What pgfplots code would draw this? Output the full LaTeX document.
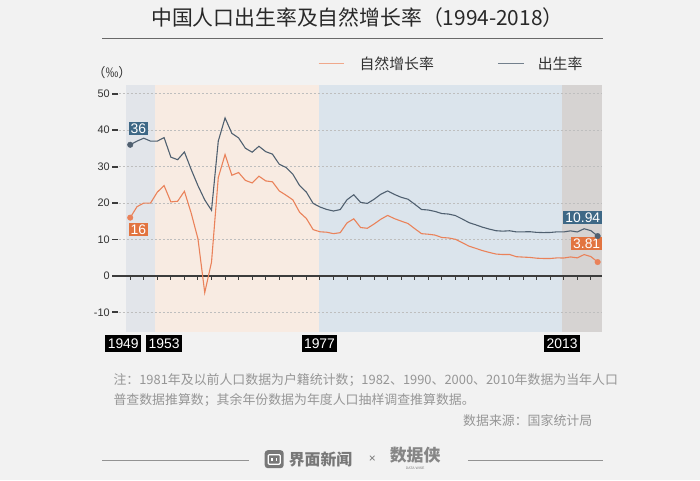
\documentclass[border=0pt]{standalone}
\usepackage{fontspec}
\usepackage{pgfplots}
\pgfplotsset{compat=1.18}
\setmainfont{Liberation Sans}
\newfontfamily\cjk{Noto Sans CJK SC}
\definecolor{bg}{RGB}{242,242,242}
\definecolor{titlec}{RGB}{40,40,40}
\definecolor{rulec}{RGB}{105,105,105}
\definecolor{bandA}{RGB}{226,229,234}
\definecolor{bandB}{RGB}{248,235,226}
\definecolor{bandC}{RGB}{219,228,236}
\definecolor{bandD}{RGB}{214,211,210}
\definecolor{birthc}{RGB}{80,96,112}
\definecolor{natc}{RGB}{234,130,90}
\definecolor{boxblue}{RGB}{62,104,134}
\definecolor{boxorange}{RGB}{226,116,64}
\definecolor{gridc}{RGB}{190,190,190}
\definecolor{zeroc}{RGB}{60,60,60}
\definecolor{labc}{RGB}{50,50,50}
\definecolor{notec}{RGB}{150,150,150}
\definecolor{footc}{RGB}{120,120,120}
\begin{document}
\pagecolor{bg}
\begin{tikzpicture}[x=1bp,y=1bp]
\path (0,0) rectangle (700,482);
\node[font=\cjk\fontsize{21}{24}\selectfont, text=titlec] at (356,464) {中国人口出生率及自然增长率（1994-2018）};
\draw[rulec, line width=1.3bp] (100,443)--(603,443);
% legend
\draw[natc!70, line width=1bp] (317,418)--(343,418);
\node[anchor=west, font=\cjk\fontsize{15}{18}\selectfont, text=labc, inner sep=0] at (358,418) {自然增长率};
\draw[birthc!80, line width=1bp] (497,418)--(523,418);
\node[anchor=west, font=\cjk\fontsize{15}{18}\selectfont, text=labc, inner sep=0] at (537,418) {出生率};
\node[anchor=west, font=\cjk\fontsize{13}{15}\selectfont, text=labc, inner sep=0] at (90,409) {（‰）};
\begin{axis}[
  at={(113bp,149bp)}, anchor=south west,
  scale only axis, width=489bp, height=248bp,
  xmin=1946.8, xmax=2018.7, ymin=-15.3, ymax=52.5,
  clip=false,
  axis lines=none,
  xtick=\empty, ytick=\empty,
]
% background bands
\addplot[draw=none, fill=bandA] coordinates {(1948.4,-15.3) (1948.4,52.5) (1952.6,52.5) (1952.6,-15.3)};
\addplot[draw=none, fill=bandB] coordinates {(1952.6,-15.3) (1952.6,52.5) (1976.8,52.5) (1976.8,-15.3)};
\addplot[draw=none, fill=bandC] coordinates {(1976.8,-15.3) (1976.8,52.5) (2012.8,52.5) (2012.8,-15.3)};
\addplot[draw=none, fill=bandD] coordinates {(2012.8,-15.3) (2012.8,52.5) (2018.7,52.5) (2018.7,-15.3)};
% dashed grid lines
\foreach \yy in {-10,10,20,30,40,50}{
  \edef\tmp{\noexpand\addplot[draw=gridc, line width=0.6bp, dash pattern=on 2bp off 2bp, mark=none] coordinates {(1947.3,\yy) (2018.7,\yy)};}
  \tmp
}
% y tick marks and labels
\addplot[only marks, mark=-, mark size=3bp, mark options={draw=zeroc, line width=1.8bp}] coordinates {
(1946.8,-10) (1946.8,0) (1946.8,10) (1946.8,20) (1946.8,30) (1946.8,40) (1946.8,50)};
\foreach \yy in {-10,0,10,20,30,40,50}{
  \edef\tmp{\noexpand\node[anchor=east, font=\noexpand\fontsize{11}{12}\noexpand\selectfont, text=labc, inner sep=0] at (axis cs:1946.0,\yy) {\yy};}
  \tmp
}
% zero line and its ticks
\addplot[draw=zeroc, line width=1.3bp, mark=none] coordinates {(1946.8,0) (2018.7,0)};
\addplot[only marks, mark=|, mark size=1.8bp, mark options={draw=zeroc, line width=1bp}] coordinates {
(1949,-0.55) (1951,-0.55) (1953,-0.55) (1955,-0.55) (1957,-0.55) (1959,-0.55) (1961,-0.55) (1963,-0.55) (1965,-0.55)
(1967,-0.55) (1969,-0.55) (1971,-0.55) (1973,-0.55) (1975,-0.55) (1977,-0.55) (1979,-0.55) (1981,-0.55) (1983,-0.55)
(1985,-0.55) (1987,-0.55) (1989,-0.55) (1991,-0.55) (1993,-0.55) (1995,-0.55) (1997,-0.55) (1999,-0.55) (2001,-0.55)
(2003,-0.55) (2005,-0.55) (2007,-0.55) (2009,-0.55) (2011,-0.55) (2013,-0.55) (2015,-0.55) (2017,-0.55)};
% birth rate
\addplot[birthc, line width=1.1bp, mark=none] coordinates {
(1949,36.00) (1950,37.00) (1951,37.80) (1952,37.00) (1953,37.00) (1954,37.97) (1955,32.60) (1956,31.90) (1957,34.03) (1958,29.22)
(1959,24.78) (1960,20.86) (1961,18.02) (1962,37.01) (1963,43.37) (1964,39.14) (1965,37.88) (1966,35.05) (1967,33.96) (1968,35.59)
(1969,34.11) (1970,33.43) (1971,30.65) (1972,29.77) (1973,27.93) (1974,24.82) (1975,23.01) (1976,19.91) (1977,18.93) (1978,18.25)
(1979,17.82) (1980,18.21) (1981,20.91) (1982,22.28) (1983,20.19) (1984,19.90) (1985,21.04) (1986,22.43) (1987,23.33) (1988,22.37)
(1989,21.58) (1990,21.06) (1991,19.68) (1992,18.24) (1993,18.09) (1994,17.70) (1995,17.12) (1996,16.98) (1997,16.57) (1998,15.64)
(1999,14.64) (2000,14.03) (2001,13.38) (2002,12.86) (2003,12.41) (2004,12.29) (2005,12.40) (2006,12.09) (2007,12.10) (2008,12.14)
(2009,11.95) (2010,11.90) (2011,11.93) (2012,12.10) (2013,12.08) (2014,12.37) (2015,12.07) (2016,12.95) (2017,12.43) (2018,10.94)};
% natural growth rate
\addplot[natc, line width=1.1bp, mark=none] coordinates {
(1949,16.00) (1950,19.00) (1951,20.00) (1952,20.00) (1953,23.00) (1954,24.79) (1955,20.32) (1956,20.50) (1957,23.23) (1958,17.24)
(1959,10.19) (1960,-4.57) (1961,3.78) (1962,26.99) (1963,33.33) (1964,27.64) (1965,28.38) (1966,26.22) (1967,25.53) (1968,27.38)
(1969,26.08) (1970,25.83) (1971,23.33) (1972,22.16) (1973,20.89) (1974,17.48) (1975,15.77) (1976,12.72) (1977,12.12) (1978,12.00)
(1979,11.61) (1980,11.87) (1981,14.55) (1982,15.68) (1983,13.29) (1984,13.08) (1985,14.26) (1986,15.57) (1987,16.61) (1988,15.73)
(1989,15.04) (1990,14.39) (1991,12.98) (1992,11.60) (1993,11.45) (1994,11.21) (1995,10.55) (1996,10.42) (1997,10.06) (1998,9.14)
(1999,8.18) (2000,7.58) (2001,6.95) (2002,6.45) (2003,6.01) (2004,5.87) (2005,5.89) (2006,5.28) (2007,5.17) (2008,5.08)
(2009,4.87) (2010,4.79) (2011,4.79) (2012,4.95) (2013,4.92) (2014,5.21) (2015,4.96) (2016,5.86) (2017,5.32) (2018,3.81)};
% end dots
\addplot[only marks, mark=*, mark size=2.8bp, color=birthc] coordinates {(1949,36.00) (2018,10.94)};
\addplot[only marks, mark=*, mark size=2.8bp, color=natc] coordinates {(1949,16.00) (2018,3.81)};
% value boxes
\node[fill=boxblue, text=white, inner xsep=2bp, inner ysep=1.5bp, font=\fontsize{14}{14}\selectfont] at (axis cs:1950.2,40.4) {36};
\node[fill=boxorange, text=white, inner xsep=2bp, inner ysep=1.5bp, font=\fontsize{14}{14}\selectfont] at (axis cs:1950.2,12.8) {16};
\node[anchor=east, fill=boxblue, text=white, inner xsep=2bp, inner ysep=1.5bp, font=\fontsize{14}{14}\selectfont] at (axis cs:2018.7,16.0) {10.94};
\node[anchor=east, fill=boxorange, text=white, inner xsep=2bp, inner ysep=1.5bp, font=\fontsize{14}{14}\selectfont] at (axis cs:2018.7,8.9) {3.81};
% year boxes
\foreach \xx/\lab in {1947.97/1949, 1954.0/1953, 1976.94/1977, 2012.75/2013}{
  \edef\tmp{\noexpand\node[fill=black, text=white, inner xsep=2.5bp, minimum height=16bp, font=\noexpand\fontsize{14}{14}\noexpand\selectfont] at (axis cs:\xx,-18.6) {\lab};}
  \tmp
}
\end{axis}
% notes
\node[anchor=west, font=\cjk\fontsize{13}{15}\selectfont, text=notec, inner sep=0] at (111,100) {注：1981年及以前人口数据为户籍统计数；1982、1990、2000、2010年数据为当年人口};
\node[anchor=west, font=\cjk\fontsize{13}{15}\selectfont, text=notec, inner sep=0] at (111,80) {普查数据推算数；其余年份数据为年度人口抽样调查推算数据。};
\node[anchor=east, font=\cjk\fontsize{13}{15}\selectfont, text=notec, inner sep=0] at (592,60) {数据来源：国家统计局};
% footer
\draw[footc!80, line width=1bp] (100,20)--(247,20);
\draw[footc!80, line width=1bp] (467,20)--(603,20);
\fill[footc, rounded corners=3bp] (263,12) rectangle (282,30);
\draw[white, line width=1.2bp, rounded corners=1bp] (266.5,16) rectangle (278.5,25.5);
\fill[white] (269.5,19) rectangle (271,22.5);
\fill[white] (274,19) rectangle (275.5,22.5);
\node[anchor=west, font=\cjk\bfseries\fontsize{16}{18}\selectfont, text=footc, inner sep=0] at (287,21) {界面新闻};
\node[font=\fontsize{12}{12}\selectfont, text=footc] at (371,21) {×};
\node[font=\cjk\bfseries\fontsize{17}{18}\selectfont, text=footc!90, inner sep=0] at (414,25) {数据侠};
\node[font=\fontsize{3.5}{4}\selectfont, text=footc, inner sep=0] at (414,11.5) {DATA WISE};
\end{tikzpicture}
\end{document}
